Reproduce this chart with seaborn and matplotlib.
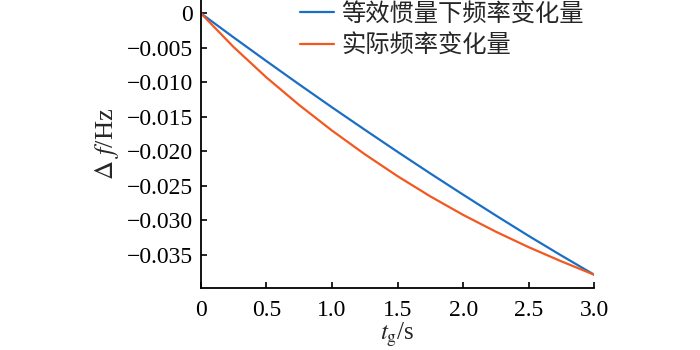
import matplotlib
matplotlib.use("Agg")
import matplotlib.pyplot as plt
import seaborn as sns
import pandas as pd

# Time axis (s)
t_g = [0.0, 0.25, 0.5, 0.75, 1.0, 1.25, 1.5, 1.75, 2.0, 2.25, 2.5, 2.75, 3.0]
# Frequency deviation under equivalent inertia (Hz)
df_equiv = [0.0, -0.00350, -0.00693, -0.01031, -0.01363, -0.01688, -0.02008,
            -0.02322, -0.02629, -0.02931, -0.03227, -0.03512, -0.0379]
# Actual frequency deviation (Hz)
df_actual = [0.0, -0.00490, -0.00930, -0.01330, -0.01700, -0.02043, -0.02361,
             -0.02654, -0.02922, -0.03166, -0.03390, -0.03596, -0.0379]

series_names = ["等效惯量下频率变化量", "实际频率变化量"]
series_colors = ["#1a6fc4", "#f2581f"]

x_ticks = [0.0, 0.5, 1.0, 1.5, 2.0, 2.5, 3.0]
x_tick_labels = ["0", "0.5", "1.0", "1.5", "2.0", "2.5", "3.0"]
y_ticks = [0.0, -0.005, -0.010, -0.015, -0.020, -0.025, -0.030, -0.035]
y_tick_labels = ["0", "\u22120.005", "\u22120.010", "\u22120.015", "\u22120.020",
                 "\u22120.025", "\u22120.030", "\u22120.035"]

data = pd.concat([
    pd.DataFrame({"t": t_g, "df": df_equiv, "series": series_names[0]}),
    pd.DataFrame({"t": t_g, "df": df_actual, "series": series_names[1]}),
])

sns.set_theme(style="ticks")
plt.rcParams["font.family"] = ["Liberation Serif", "Noto Sans CJK SC"]
plt.rcParams["mathtext.fontset"] = "stix"

fig = plt.figure(figsize=(7, 3.5), dpi=100)
ax = fig.add_axes([0.287, 0.178, 0.562, 0.822])

sns.lineplot(data=data, x="t", y="df", hue="series", palette=series_colors,
             linewidth=1.6, ax=ax, legend=True)

ax.set_xlim(0, 3.0)
ax.set_ylim(-0.03977, 0.00193)
ax.set_xticks(x_ticks)
ax.set_xticklabels(x_tick_labels)
ax.set_yticks(y_ticks)
ax.set_yticklabels(y_tick_labels)
ax.tick_params(direction="in", length=4, width=1.2, labelsize=17,
               colors="black")
ax.tick_params(axis="y", pad=5.5)
ax.tick_params(axis="x", pad=9)
for side in ["top", "right"]:
    ax.spines[side].set_visible(False)
for side in ["left", "bottom"]:
    ax.spines[side].set_linewidth(1.3)
    ax.spines[side].set_color("black")

ax.set_xlabel(r"$t_{\mathrm{g}}$/s", fontsize=18, labelpad=0)
ax.set_ylabel(r"$\Delta$ $f$/Hz", fontsize=19, labelpad=4)

handles, labels = ax.get_legend_handles_labels()
leg = ax.legend(handles, labels, loc="upper left",
                bbox_to_anchor=(300 / 700, 0.998), bbox_transform=fig.transFigure,
                frameon=False, handlelength=1.4, handletextpad=0.3,
                labelspacing=0.25, borderaxespad=0, borderpad=0,
                prop={"family": "Noto Sans CJK SC", "size": 17.5})

fig.savefig("out.png", dpi=100)
